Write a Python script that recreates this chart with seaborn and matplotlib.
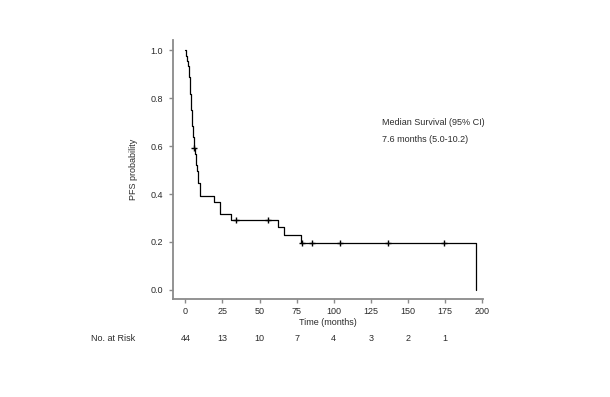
import numpy as np
import pandas as pd
import matplotlib
matplotlib.use('Agg')
import matplotlib.pyplot as plt
import matplotlib.transforms as mtransforms
import seaborn as sns

# Kaplan-Meier step points (months, PFS probability)
step_time = [0, 0.3, 0.9, 1.6, 2.3, 2.6, 2.9, 3.2, 3.4, 3.6, 3.8, 4.0, 4.2, 4.4,
             4.8, 5.1, 5.4, 5.6, 5.8, 6.4, 6.9, 7.3, 7.8, 8.2, 8.7, 10.0,
             19.0, 23.4, 30.9, 62.4, 66.2, 78.2, 195.9]
surv = [1.0, 0.977, 0.955, 0.932, 0.909, 0.886, 0.864, 0.841, 0.818, 0.795,
        0.773, 0.750, 0.727, 0.705, 0.682, 0.659, 0.636, 0.614, 0.591, 0.567,
        0.544, 0.520, 0.496, 0.473, 0.445, 0.39, 0.365, 0.318, 0.29, 0.262,
        0.228, 0.195, 0.0]
censor_time = [6.1, 34.3, 55.6, 78.6, 85.0, 104.0, 136.5, 174.3]

risk_times = [0, 25, 50, 75, 100, 125, 150, 175]
at_risk = [44, 13, 10, 7, 4, 3, 2, 1]

x_ticks = [0, 25, 50, 75, 100, 125, 150, 175, 200]
y_ticks = [0.0, 0.2, 0.4, 0.6, 0.8, 1.0]

sns.set_style('ticks')
plt.rcParams['font.family'] = ['Liberation Sans', 'DejaVu Sans']
text_col = '#2b2b2b'
axis_col = '#8a8a8a'
fs = 6.5

df = pd.DataFrame({'time': step_time, 'surv': surv})
idx = np.searchsorted(np.array(step_time), np.array(censor_time), side='right') - 1
cens = pd.DataFrame({'time': censor_time, 'surv': np.array(surv)[idx]})

fig = plt.figure(figsize=(6.10, 3.97), dpi=100)
ax = fig.add_axes([0.2844, 0.2469, 0.5074, 0.6524])

sns.lineplot(data=df, x='time', y='surv', drawstyle='steps-post', estimator=None,
             color='black', linewidth=0.9, ax=ax)
ax.plot(cens['time'], cens['surv'], linestyle='none', marker='+', color='black',
        markersize=4.5, markeredgewidth=1.0)

ax.set_xlim(-8, 200.5)
ax.set_ylim(-0.0375, 1.042)
ax.set_xticks(x_ticks)
ax.set_xticklabels([str(t) for t in x_ticks])
ax.set_yticks(y_ticks)
ax.set_yticklabels(['%.1f' % v for v in y_ticks])

for side in ['top', 'right']:
    ax.spines[side].set_visible(False)
for side in ['left', 'bottom']:
    ax.spines[side].set_color(axis_col)
    ax.spines[side].set_linewidth(1.3)
ax.tick_params(axis='both', colors=axis_col, labelcolor=text_col, labelsize=fs,
               length=3, width=1.0)
ax.tick_params(axis='y', pad=4.5)
ax.tick_params(axis='x', pad=3)

ax.set_xlabel('Time (months)', fontsize=fs, color=text_col, labelpad=1)
ax.set_ylabel('PFS probability', fontsize=fs, color=text_col, labelpad=9)

ax.text(132.3, 0.698, 'Median Survival (95% CI)', fontsize=fs, color=text_col,
        ha='left', va='center')
ax.text(132.3, 0.629, '7.6 months (5.0-10.2)', fontsize=fs, color=text_col,
        ha='left', va='center')

# number at risk row below the axis
trans = mtransforms.blended_transform_factory(ax.transData, fig.transFigure)
for t, n in zip(risk_times, at_risk):
    ax.text(t, 0.1486, str(n), transform=trans, fontsize=fs, color=text_col,
            ha='center', va='center')
fig.text(0.149, 0.1486, 'No. at Risk', fontsize=fs, color=text_col,
         ha='left', va='center')

fig.savefig('out.png', dpi=100, facecolor='white')
